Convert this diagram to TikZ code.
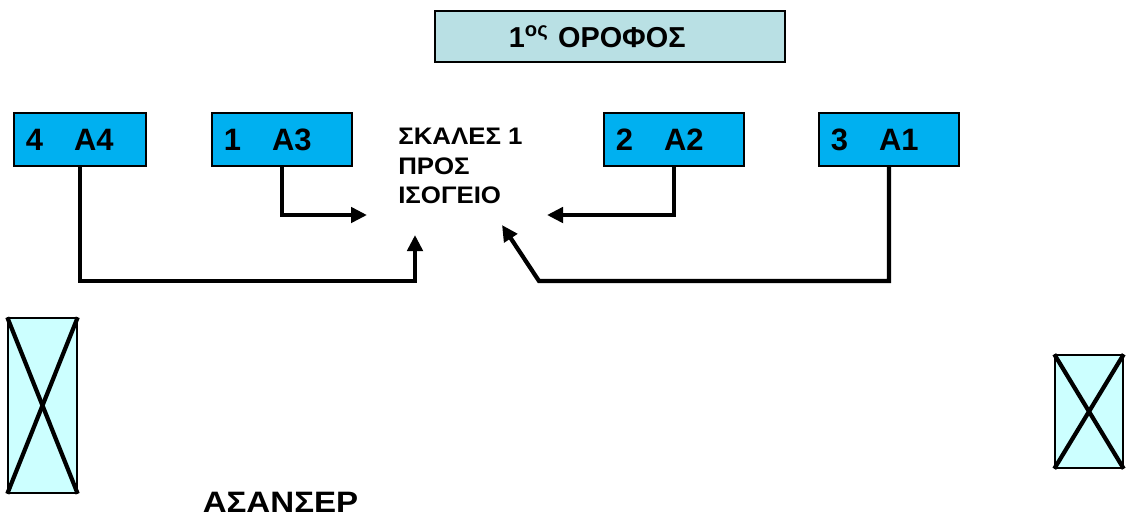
\documentclass[tikz,border=0pt]{standalone}
\usepackage{fontspec}
\setmainfont{Liberation Sans}
\usetikzlibrary{arrows.meta}

\definecolor{roomblue}{HTML}{00B0F0}
\definecolor{floorteal}{HTML}{B9E0E4}
\definecolor{liftcyan}{HTML}{CCFFFF}

\begin{document}
\begin{tikzpicture}[x=0.025cm,y=-0.025cm,
  room/.style={draw,line width=1.3pt,fill=roomblue,anchor=west,
    minimum height=1.325cm,text width=2.9cm,inner xsep=0.3cm,align=left,
    font=\bfseries\fontsize{22}{26}\selectfont},
  link/.style={line width=3pt,-{Triangle[length=0.4cm,width=0.38cm]}},
  lift/.style={draw,line width=1pt,fill=liftcyan},
  cross/.style={line width=3pt}]
\useasboundingbox (0,0) rectangle (1129,529);

\node[draw,line width=1.3pt,fill=floorteal,anchor=west,minimum height=1.275cm,
  text width=5.05cm,inner xsep=1.85cm,align=left,
  font=\bfseries\fontsize{20.5}{24}\selectfont] (floor) at (434,36.5)
  {1\textsuperscript{ος} ΟΡΟΦΟΣ};

\node[room,text width=2.7cm] (a4) at (13,139.5) {4\quad A4};
\node[room] (a3) at (211,139.5) {1\quad A3};
\node[room] (a2) at (603,139.5) {2\quad A2};
\node[room] (a1) at (818,139.5) {3\quad A1};

\node[anchor=north west,inner sep=0pt,align=left,
  font=\bfseries\fontsize{17}{21}\selectfont\addfontfeatures{FakeStretch=1.08}]
  (stairs) at (398,128) {ΣΚΑΛΕΣ 1\\ΠΡΟΣ\\ΙΣΟΓΕΙΟ};

\coordinate (tipA3) at (367,215);
\coordinate (tipA2) at (547,215);
\coordinate (tipA4) at (415,235);
\coordinate (tipA1) at (502,225);

\draw[link] (a3.south) |- (tipA3);
\draw[link] (a2.south) |- (tipA2);
\draw[link] (a4.south) -- ++(0,114) -| (tipA4);
\draw[link] (a1.south) -- ++(0,114) -- ++(-350,0) -- (tipA1);

% lifts
\node[lift,minimum width=1.725cm,minimum height=4.375cm] (liftL) at (42.5,405.5) {};
\draw[cross] (liftL.north west) -- (liftL.south east);
\draw[cross] (liftL.north east) -- (liftL.south west);

\node[lift,minimum width=1.7cm,minimum height=2.825cm] (liftR) at (1089,411.5) {};
\draw[cross] (liftR.north west) -- (liftR.south east);
\draw[cross] (liftR.north east) -- (liftR.south west);

\node[font=\bfseries\fontsize{21}{24}\selectfont\addfontfeatures{FakeStretch=1.12}]
  (liftname) at (280.5,502.5) {ΑΣΑΝΣΕΡ};

\end{tikzpicture}
\end{document}
